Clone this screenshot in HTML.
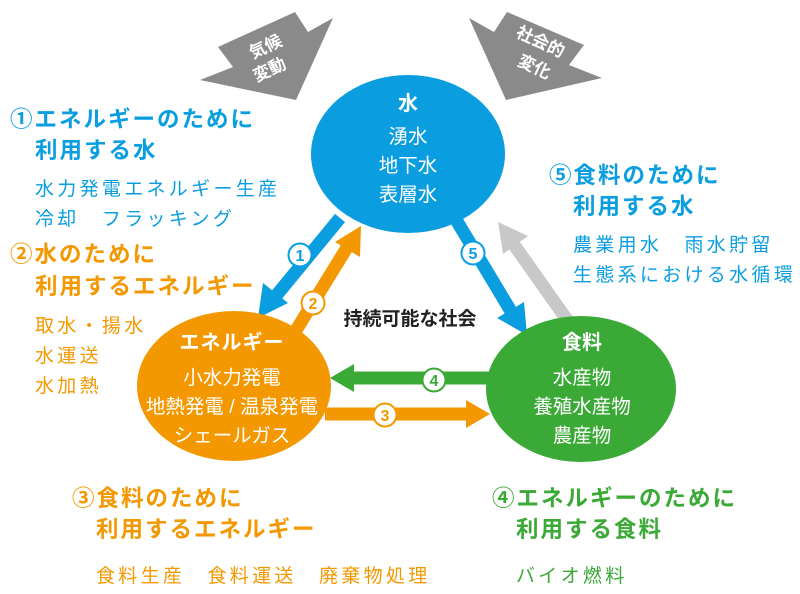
<!DOCTYPE html>
<html><head><meta charset="utf-8"><style>
html,body{margin:0;padding:0;background:#fff;}
svg{display:block;font-family:"Liberation Sans","Noto Sans CJK JP",sans-serif;}
.h{font-size:22.5px;font-weight:bold;letter-spacing:2px}
.i{font-size:19px;letter-spacing:3.3px}
</style></head><body>
<svg width="800" height="594" viewBox="0 0 800 594" xmlns="http://www.w3.org/2000/svg">
<!-- gray block arrows -->
<polygon points="295,12 308,32 333,18 296,100 200,80 233,67 218,47" fill="#8a8a8a"/>
<polygon points="507,12 494,32 469,18 506,100 602,78 569,65 584,45" fill="#8a8a8a"/>
<text x="268" y="52" fill="#fff" font-size="17" font-weight="bold" text-anchor="middle" transform="rotate(-25 268 52)">気候</text>
<text x="272" y="75" fill="#fff" font-size="17" font-weight="bold" text-anchor="middle" transform="rotate(-25 272 75)">変動</text>
<text x="538" y="47" fill="#fff" font-size="17" font-weight="bold" text-anchor="middle" transform="rotate(25 538 47)">社会的</text>
<text x="532" y="72" fill="#fff" font-size="17" font-weight="bold" text-anchor="middle" transform="rotate(25 532 72)">変化</text>

<!-- connectors -->
<g stroke-width="13" fill="none">
<line x1="340" y1="218" x2="275" y2="297" stroke="#0a9ee0"/>
<polygon points="258,318 263,283 288,303" fill="#0a9ee0" stroke="none"/>
<line x1="455" y1="218" x2="512" y2="313" stroke="#0a9ee0"/>
<polygon points="527,335 497,318 524,302" fill="#0a9ee0" stroke="none"/>
<line x1="570" y1="324" x2="512" y2="242" stroke="#c8c8c8"/>
<polygon points="498,222 528,236 503,254" fill="#c8c8c8" stroke="none"/>
<line x1="290" y1="340" x2="348" y2="246" stroke="#f39800"/>
<polygon points="361,226 360,257 335,242" fill="#f39800" stroke="none"/>
<line x1="495" y1="378" x2="350" y2="378" stroke="#3aa935"/>
<polygon points="330,378 354,364 354,392" fill="#3aa935" stroke="none"/>
<line x1="325" y1="414" x2="470" y2="414" stroke="#f39800"/>
<polygon points="490,414 466,400 466,428" fill="#f39800" stroke="none"/>
</g>
<!-- numbered circles -->
<g font-size="16" font-weight="bold" text-anchor="middle">
<circle cx="300" cy="255" r="11.5" fill="#fff" stroke="#0a9ee0" stroke-width="2"/><text x="300" y="261" fill="#0a9ee0">1</text>
<circle cx="313" cy="303" r="11.5" fill="#fff" stroke="#f39800" stroke-width="2"/><text x="313" y="309" fill="#f39800">2</text>
<circle cx="385" cy="415" r="11.5" fill="#fff" stroke="#f39800" stroke-width="2"/><text x="385" y="421" fill="#f39800">3</text>
<circle cx="434" cy="380" r="11.5" fill="#fff" stroke="#3aa935" stroke-width="2"/><text x="434" y="386" fill="#3aa935">4</text>
<circle cx="473" cy="253" r="11.5" fill="#fff" stroke="#0a9ee0" stroke-width="2"/><text x="473" y="259" fill="#0a9ee0">5</text>
</g>

<!-- ellipses -->
<ellipse cx="408" cy="154" rx="97" ry="79" fill="#0a9ee0"/>
<ellipse cx="234" cy="386" rx="97" ry="75" fill="#f39800"/>
<ellipse cx="581" cy="389" rx="95" ry="73" fill="#3aa935"/>
<g fill="#fff" text-anchor="middle">
<text x="408" y="110" font-size="20" font-weight="bold">水</text>
<text x="408" y="143" font-size="19.5">湧水</text>
<text x="408" y="172" font-size="19.5">地下水</text>
<text x="408" y="201" font-size="19.5">表層水</text>
<text x="232" y="349" font-size="20" font-weight="bold" letter-spacing="1">エネルギー</text>
<text x="232" y="384" font-size="19.5">小水力発電</text>
<text x="232" y="413" font-size="19.5">地熱発電 / 温泉発電</text>
<text x="232" y="442" font-size="19.5">シェールガス</text>
<text x="582" y="349" font-size="20" font-weight="bold">食料</text>
<text x="582" y="384" font-size="19.5">水産物</text>
<text x="582" y="413" font-size="19.5">養殖水産物</text>
<text x="582" y="442" font-size="19.5">農産物</text>
</g>
<text x="410" y="325" font-size="19" font-weight="bold" text-anchor="middle" fill="#222">持続可能な社会</text>

<!-- side texts -->
<g fill="#0a9ee0">
<text class="h" x="10" y="127">①エネルギーのために</text>
<text class="h" x="35" y="158">利用する水</text>
<text class="i" x="35" y="195">水力発電エネルギー生産</text>
<text class="i" x="35" y="225">冷却　フラッキング</text>
<text class="h" x="549" y="183">⑤食料のために</text>
<text class="h" x="573" y="214">利用する水</text>
<text class="i" x="573" y="251">農業用水　雨水貯留</text>
<text class="i" x="573" y="281">生態系における水循環</text>
</g>
<g fill="#f39800">
<text class="h" x="10" y="262">②水のために</text>
<text class="h" x="35" y="294">利用するエネルギー</text>
<text class="i" x="35" y="332">取水・揚水</text>
<text class="i" x="35" y="362">水運送</text>
<text class="i" x="35" y="392">水加熱</text>
<text class="h" x="72" y="506">③食料のために</text>
<text class="h" x="96" y="537">利用するエネルギー</text>
<text class="i" x="96" y="582">食料生産　食料運送　廃棄物処理</text>
</g>
<g fill="#3aa935">
<text class="h" x="492" y="506">④エネルギーのために</text>
<text class="h" x="516" y="537">利用する食料</text>
<text class="i" x="516" y="582">バイオ燃料</text>
</g>
</svg>
</body></html>
